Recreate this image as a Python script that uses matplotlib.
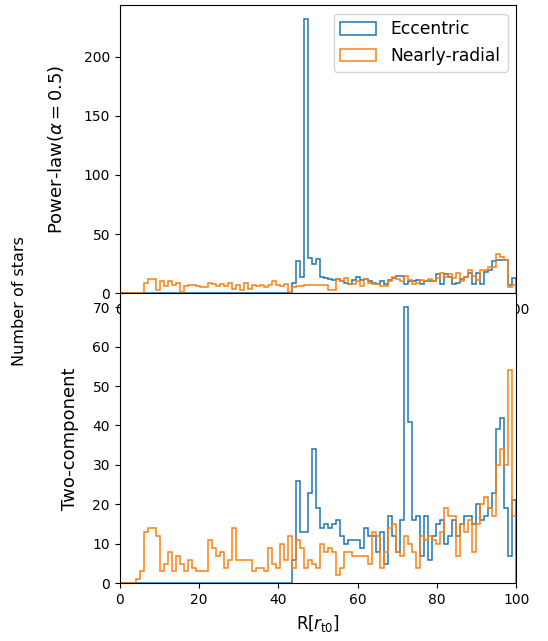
import matplotlib
matplotlib.use("Agg")
import matplotlib.pyplot as plt
import numpy as np

# 99 equal bins between 0 and 100
EDGES = np.linspace(0, 100, 100)

# counts per bin, keyed by first bin index (bins before it are empty)
TOP_ECC_START = 43
TOP_ECC = [9, 27, 14, 232, 30, 25, 29, 14, 13, 12, 11, 12, 10, 9, 8, 11, 14, 11, 12, 10,
           9, 8, 10, 8, 11, 13, 15, 15, 8, 10, 10, 11, 8, 10, 10, 10, 16, 8, 16, 14,
           8, 9, 12, 14, 17, 8, 17, 8, 18, 20, 27, 28, 28, 28, 7, 13]
TOP_RAD_START = 6
TOP_RAD = [9, 12, 12, 3, 10, 6, 10, 7, 9, 1, 6, 7, 7, 6, 5, 5, 9, 8, 6, 8,
           6, 9, 4, 7, 3, 9, 4, 7, 6, 7, 5, 7, 10, 7, 6, 8, 1, 5, 6, 6,
           7, 7, 7, 7, 7, 7, 3, 3, 12, 10, 13, 8, 8, 10, 6, 12, 9, 8, 8, 6,
           6, 10, 14, 12, 10, 15, 11, 8, 9, 11, 10, 12, 10, 13, 17, 14, 16, 13, 17, 10,
           14, 20, 15, 11, 20, 20, 22, 22, 33, 31, 28, 5, 7]

BOT_ECC_START = 43
BOT_ECC = [6, 26, 13, 13, 23, 34, 19, 14, 15, 14, 15, 16, 12, 10, 11, 11, 11, 9, 14, 12,
           12, 8, 13, 5, 17, 12, 8, 16, 70, 41, 16, 17, 7, 17, 6, 12, 15, 16, 10, 12,
           16, 12, 15, 17, 17, 15, 20, 16, 17, 19, 23, 39, 42, 19, 7, 21]
BOT_RAD_START = 0
BOT_RAD = [0, 0, 0, 0, 1, 3, 13, 14, 14, 12, 3, 5, 8, 3, 7, 5, 3, 6, 4, 3,
           3, 3, 11, 9, 7, 8, 4, 6, 14, 6, 6, 6, 6, 3, 4, 4, 3, 9, 5, 4,
           10, 6, 12, 4, 11, 9, 4, 6, 5, 4, 10, 8, 9, 8, 2, 4, 8, 8, 7, 7,
           7, 7, 5, 13, 12, 4, 8, 14, 15, 8, 7, 12, 10, 8, 4, 12, 11, 12, 11, 10,
           13, 19, 17, 17, 7, 15, 13, 16, 8, 15, 20, 22, 19, 17, 30, 34, 30, 54, 17]

LW = 1.1


def full_counts(start, vals):
    counts = np.zeros(len(EDGES) - 1)
    counts[start:start + len(vals)] = vals
    return counts


centers = 0.5 * (EDGES[:-1] + EDGES[1:])

fig = plt.figure(figsize=(5.48, 6.41), dpi=100)
ax1 = fig.add_axes([0.2184, 0.5424, 0.7236, 0.4498])
ax2 = fig.add_axes([0.2184, 0.0900, 0.7236, 0.4524])

ax1.hist(centers, bins=EDGES, histtype="step", color="C0", linewidth=LW,
         weights=full_counts(TOP_ECC_START, TOP_ECC), label="Eccentric")
ax1.hist(centers, bins=EDGES, histtype="step", color="C1", linewidth=LW,
         weights=full_counts(TOP_RAD_START, TOP_RAD), label="Nearly-radial")
ax2.hist(centers, bins=EDGES, histtype="step", color="C0", linewidth=LW,
         weights=full_counts(BOT_ECC_START, BOT_ECC))
ax2.hist(centers, bins=EDGES, histtype="step", color="C1", linewidth=LW,
         weights=full_counts(BOT_RAD_START, BOT_RAD))

for ax in (ax1, ax2):
    ax.set_xlim(0, 100)

ax1.legend(loc="upper right", fontsize=12.3, handlelength=2.1, handleheight=0.75,
           handletextpad=0.85)
ax1.set_ylabel(r"Power-law($\alpha=0.5$)", fontsize=13)
ax1.yaxis.set_label_coords(-0.135, 0.5)
ax2.set_ylabel("Two-component", fontsize=13)
ax2.yaxis.set_label_coords(-0.103, 0.5)
ax2.set_xlabel(r"R[$r_{\rm t0}$]", fontsize=12)
fig.text(0.035, 0.530, "Number of stars", rotation=90, ha="center", va="center", fontsize=11.5)

fig.savefig("out.png", dpi=100)
